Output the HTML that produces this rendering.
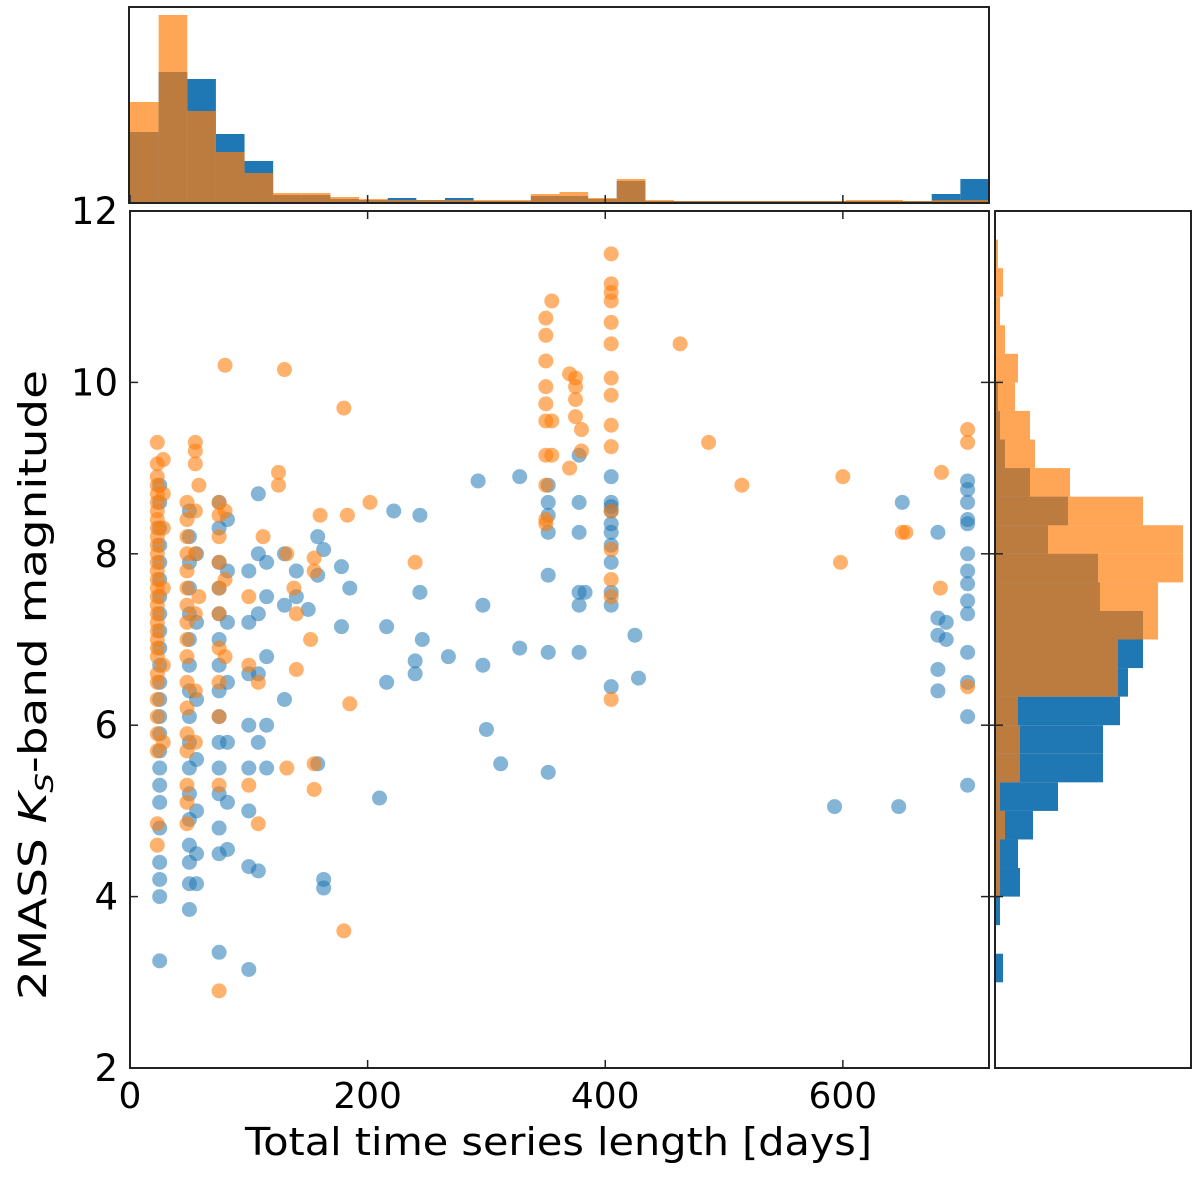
<!DOCTYPE html>
<html><head><meta charset="utf-8"><style>
body{margin:0;background:#fff;}
svg text{font-family:"DejaVu Sans","Liberation Sans",sans-serif;fill:#000;}
</style></head><body>
<svg id="chart" width="1200" height="1178" xmlns="http://www.w3.org/2000/svg"></svg>
<script>
// ---- data ----
const blueX=[25,25,25,25,25,25,25,25,25,25,25,25,25,25,25,25,25,25,25,25,25,25,25,25,
50,50,50,50,50,50,50,50,50,50,50,50,50,50,50,50,50,
56,56,56,56,56,56,56,
75,75,75,75,75,75,75,75,75,75,75,75,75,75,75,
82,82,82,82,82,82,82,
100,100,100,100,100,100,100,100,
108,108,108,108,108,108,
115,115,115,115,115,
130,130,130,140,140,150,158,158,158,163,163,163,178,178,185,210,216,216,222,240,240,244,244,246,268,293,297,297,300,312,328,328,
352,352,352,352,352,352,352,
378,378,378,378,378,378,383,
405,405,405,405,405,405,405,405,405,405,405,
425,428,593,647,650,680,680,680,680,680,687,687,
705,705,705,705,705,705,705,705,705,705,705,705,705,705];
const blueY=[3.25,4.0,4.2,4.4,4.8,5.1,5.3,5.5,5.7,5.9,6.1,6.3,6.5,6.7,6.9,7.1,7.3,7.5,7.7,7.9,8.1,8.3,8.6,8.8,
3.85,4.15,4.4,4.6,4.9,5.2,5.5,5.8,6.1,6.4,6.7,7.0,7.3,7.6,7.9,8.2,8.5,
4.15,4.5,5.0,5.6,6.3,7.2,8.0,
3.35,4.5,4.8,5.2,5.5,5.8,6.1,6.4,6.7,7.0,7.3,7.6,7.9,8.3,8.6,
4.55,5.1,5.8,6.5,7.2,7.8,8.4,
3.15,4.35,5.0,5.5,6.0,6.6,7.2,7.8,
4.3,5.8,6.6,7.3,8.0,8.7,
5.5,6.0,6.8,7.5,7.9,
6.3,7.4,8.0,7.8,7.5,7.35,5.55,7.75,8.2,4.2,4.1,8.05,7.15,7.85,7.6,5.15,6.5,7.15,8.5,6.6,6.75,7.55,8.45,7.0,6.8,8.85,6.7,7.4,5.95,5.55,8.9,6.9,
5.45,6.85,7.75,8.25,8.45,8.6,8.8,
6.85,7.4,7.55,8.25,8.6,9.15,7.55,
6.45,7.4,7.55,7.9,8.1,8.25,8.35,8.5,8.55,8.6,8.9,
7.05,6.55,5.05,5.05,8.6,6.4,6.65,7.05,7.25,8.25,7.0,7.2,
5.3,6.1,6.5,6.85,7.3,7.45,7.65,7.8,8.0,8.35,8.4,8.6,8.75,8.85];
const orangeX=[23,23,23,23,23,23,23,23,23,23,23,23,23,23,23,23,23,23,23,23,23,23,23,23,23,23,23,23,23,23,23,23,
28,28,28,28,28,28,
48,48,48,48,48,48,48,48,48,48,48,48,48,48,48,48,48,
55,55,55,55,55,55,55,55,58,58,
75,75,75,75,75,75,75,75,75,75,75,
80,80,80,80,100,100,100,108,108,112,125,125,130,132,132,138,140,140,152,155,155,155,155,160,180,180,183,185,202,240,
350,350,350,350,350,350,350,350,350,350,355,355,355,370,370,375,375,375,375,380,380,
405,405,405,405,405,405,405,405,405,405,405,405,405,405,405,
463,487,515,600,598,650,653,683,682,705,705,705];
const orangeY=[4.6,4.85,5.7,5.9,6.1,6.3,6.5,6.6,6.8,6.9,7.0,7.1,7.2,7.3,7.4,7.5,7.6,7.7,7.8,7.9,8.0,8.1,8.2,8.3,8.4,8.5,8.6,8.7,8.8,8.9,9.05,9.3,
5.8,6.7,7.6,8.3,8.7,9.1,
4.85,5.1,5.3,5.7,5.9,6.2,6.5,6.8,7.0,7.2,7.4,7.6,7.8,8.0,8.2,8.4,8.6,
5.8,6.4,7.3,8.0,8.5,9.05,9.2,9.3,7.5,8.8,
2.9,5.3,6.1,6.5,6.9,7.3,7.6,7.9,8.2,8.45,8.6,
10.2,6.8,7.7,8.5,5.3,7.5,6.7,4.85,6.5,8.2,8.8,8.95,10.15,8.0,5.5,7.6,6.65,7.3,7.0,5.25,5.55,7.8,7.95,8.45,3.6,9.7,8.45,6.25,8.6,7.9,
8.35,8.4,8.8,9.15,9.55,9.75,9.95,10.25,10.55,10.75,10.95,9.15,9.55,9.0,10.1,9.6,9.8,9.95,10.05,9.2,9.45,
6.3,7.5,7.7,8.05,8.5,9.25,9.5,9.85,10.05,10.45,10.7,10.95,11.05,11.15,11.5,
10.45,9.3,8.8,8.9,7.9,8.25,8.25,8.95,7.6,6.45,9.3,9.45];
// top histogram (counts per 30 bins of time length)
const topBlue=[71,131,124,69,42,8,8,4,3,5,3,5,2,2,7,7,4,22,2,2,2,2,2,2,2,2,2,2,9,24];
const topOrange=[101,188,92,51,30,10,10,6,4,3,3,3,3,3,9,11,5,24,3,2,2,2,2,2,2,3,3,2,3,3];
// right histogram (counts per magnitude bin, starting 3.0, width 1/3)
const rightBlue=[8,0,5,25,23,38,63,108,108,125,133,148,148,105,103,53,73,35,10,5,3,0,0,0,0,0];
const rightOrange=[0,0,0,5,5,10,5,25,25,23,123,123,163,163,188,188,148,75,40,35,20,23,10,5,8,3];
const xTicks=[0,200,400,600];
const yTicks=[2,4,6,8,10,12];

// ---- layout ----
const L=130,R=989,T=211,B=1068;
const xMin=0,xMax=723,yMin=2,yMax=12;
const sx=v=>L+(v-xMin)/(xMax-xMin)*(R-L);
const sy=v=>B-(v-yMin)/(yMax-yMin)*(B-T);
const svg=document.getElementById('chart');
const NS='http://www.w3.org/2000/svg';
function mk(tag,attrs,parent){const e=document.createElementNS(NS,tag);for(const k in attrs)e.setAttribute(k,attrs[k]);(parent||svg).appendChild(e);return e;}

// top histogram
const HT=7,HB=203;
const gTop=mk('g',{});


const binW=(xMax-xMin)/topBlue.length;
const hScaleTop=(HB-HT-6)/190;
topBlue.forEach((c,i)=>{const r=mk('rect',{x:sx(i*binW),y:HB-c*hScaleTop,width:sx((i+1)*binW)-sx(i*binW),height:c*hScaleTop,fill:'#1f77b4'},gTop);

});
topOrange.forEach((c,i)=>{const r=mk('rect',{x:sx(i*binW),y:HB-c*hScaleTop,width:sx((i+1)*binW)-sx(i*binW),height:c*hScaleTop,fill:'#ff7f0e','fill-opacity':0.7},gTop);

});
mk('rect',{x:L-1,y:HT,width:R-L+1,height:HB-HT,fill:'none',stroke:'#222','stroke-width':2},gTop);

// right histogram
const RL=995,RR=1191;
const gR=mk('g',{});


const hScaleR=(RR-RL-6)/190;
const mb=1/3;
rightBlue.forEach((c,i)=>{const y0=sy(3+(i+1)*mb),y1=sy(3+i*mb);const r=mk('rect',{x:RL,y:y0,width:c*hScaleR,height:y1-y0,fill:'#1f77b4'},gR);

});
rightOrange.forEach((c,i)=>{const y0=sy(3+(i+1)*mb),y1=sy(3+i*mb);const r=mk('rect',{x:RL,y:y0,width:c*hScaleR,height:y1-y0,fill:'#ff7f0e','fill-opacity':0.7},gR);

});
mk('rect',{x:RL,y:T,width:RR-RL,height:B-T,fill:'none',stroke:'#222','stroke-width':2},gR);
yTicks.forEach(v=>{if(v>2&&v<12)mk('line',{x1:RL-6,x2:RL+8,y1:sy(v),y2:sy(v),stroke:'#222','stroke-width':1.5},gR);});

// scatter
const gS=mk('g',{});


blueX.forEach((x,i)=>{const c=mk('circle',{cx:sx(x),cy:sy(blueY[i]),r:7.5,fill:'#1f77b4','fill-opacity':0.55},gS);

});
orangeX.forEach((x,i)=>{const c=mk('circle',{cx:sx(x),cy:sy(orangeY[i]),r:7.5,fill:'#ff7f0e','fill-opacity':0.6},gS);

});

// main axes frame & ticks
mk('rect',{x:L,y:T,width:R-L,height:B-T,fill:'none',stroke:'#222','stroke-width':2});
const gx=mk('g',{});


xTicks.forEach(v=>{const x=sx(v);
mk('line',{x1:x,x2:x,y1:B,y2:B-8,stroke:'#222','stroke-width':1.5},gx);
mk('line',{x1:x,x2:x,y1:T,y2:T+8,stroke:'#222','stroke-width':1.5},gx);
mk('line',{x1:x,x2:x,y1:HB,y2:HB-8,stroke:'#222','stroke-width':1.5},gx);
const t=mk('text',{x:x,y:B+40,'text-anchor':'middle','font-size':36},gx);t.textContent=v;

});
const gy=mk('g',{});


yTicks.forEach(v=>{const y=sy(v);
mk('line',{x1:L,x2:L+8,y1:y,y2:y,stroke:'#222','stroke-width':1.5},gy);
mk('line',{x1:R,x2:R-8,y1:y,y2:y,stroke:'#222','stroke-width':1.5},gy);
const t=mk('text',{x:L-12,y:y+13,'text-anchor':'end','font-size':37},gy);t.textContent=v;

});
const xl=mk('text',{x:245,y:1155,'font-size':38,textLength:627,lengthAdjust:'spacingAndGlyphs'});
xl.textContent='Total time series length [days]';


const yl=mk('text',{x:0,y:0,'font-size':38,textLength:630,lengthAdjust:'spacingAndGlyphs',transform:'translate(46,1000) rotate(-90)'});
yl.innerHTML='2MASS <tspan font-style="italic">K</tspan><tspan font-style="italic" font-size="25" dy="7">S</tspan><tspan dy="-7">-band magnitude</tspan>';


</script>
</body></html>
